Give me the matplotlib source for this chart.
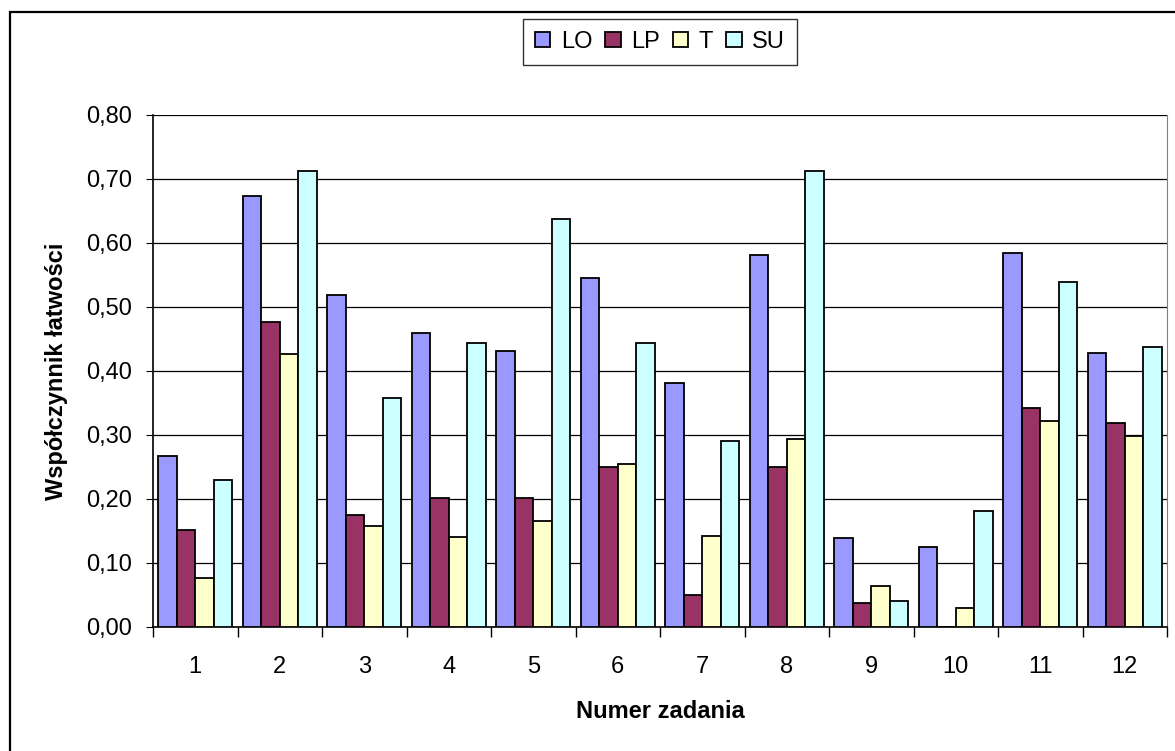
import numpy as np
import matplotlib.pyplot as plt
from matplotlib.patches import Rectangle
from matplotlib.ticker import FuncFormatter, MultipleLocator, FixedLocator

plt.rcParams['font.family'] = ['Liberation Sans', 'DejaVu Sans']

zadania = ['1', '2', '3', '4', '5', '6', '7', '8', '9', '10', '11', '12']
serie = ['LO', 'LP', 'T', 'SU']
lo = [0.267, 0.674, 0.519, 0.460, 0.431, 0.546, 0.381, 0.582, 0.139, 0.125, 0.584, 0.428]
lp = [0.152, 0.477, 0.175, 0.201, 0.201, 0.250, 0.050, 0.250, 0.037, 0.000, 0.342, 0.319]
t = [0.076, 0.427, 0.158, 0.141, 0.165, 0.254, 0.142, 0.293, 0.064, 0.030, 0.322, 0.299]
su = [0.229, 0.713, 0.358, 0.444, 0.638, 0.444, 0.290, 0.713, 0.040, 0.181, 0.539, 0.437]
kolory = ['#9999FF', '#993366', '#FFFFCC', '#CCFFFF']

fig = plt.figure(figsize=(11.75, 7.51), dpi=100)
ax = fig.add_axes([153 / 1175, 1 - 627 / 751, 1014 / 1175, 512 / 751])

# ramka wokol calego wykresu (dol i prawa strona poza obrazkiem)
fig.patches.append(Rectangle((10 / 1175, -0.1), 1.2, 1.1 - 12 / 751, transform=fig.transFigure,
                             fill=False, edgecolor='black', linewidth=1.6))

x = np.arange(len(zadania))
w = 0.219
for i, (nazwa, dane) in enumerate(zip(serie, [lo, lp, t, su])):
    ax.bar(x + (i - 1.5) * w, dane, width=w, color=kolory[i], edgecolor='black',
           linewidth=1.3, label=nazwa, zorder=3)

ax.set_xlim(-0.5, 11.5)
ax.set_ylim(0, 0.80)
ax.yaxis.set_major_locator(MultipleLocator(0.1))
ax.yaxis.set_major_formatter(FuncFormatter(lambda v, p: f'{v:.2f}'.replace('.', ',')))
ax.grid(axis='y', color='black', linewidth=0.9, zorder=0)

ax.set_xticks(x)
ax.set_xticklabels(zadania)
ax.xaxis.set_minor_locator(FixedLocator(np.arange(-0.5, 12, 1)))
ax.tick_params(axis='x', which='major', length=0, pad=21, labelsize=17)
ax.tick_params(axis='x', which='minor', length=7, direction='out', width=1)
ax.tick_params(axis='y', length=5, direction='out', labelsize=17, pad=10)

ax.spines['top'].set_visible(False)
ax.spines['right'].set_color('#808080')
ax.spines['left'].set_linewidth(1.2)
ax.spines['bottom'].set_linewidth(1.2)

ax.set_xlabel('Numer zadania', fontsize=17, fontweight='bold', labelpad=16)
ax.set_ylabel('Współczynnik łatwości', fontsize=17, fontweight='bold', labelpad=13)

leg = ax.legend(loc='upper center', bbox_to_anchor=(0.5, 1 + (115 - 19) / 512), ncol=4, frameon=True,
                fancybox=False, edgecolor='black', fontsize=17, handlelength=0.65,
                handleheight=0.65, handletextpad=0.45, columnspacing=0.55, borderpad=0.5,
                borderaxespad=0)
leg.get_frame().set_linewidth(1.0)

fig.savefig('out.png', dpi=100)
